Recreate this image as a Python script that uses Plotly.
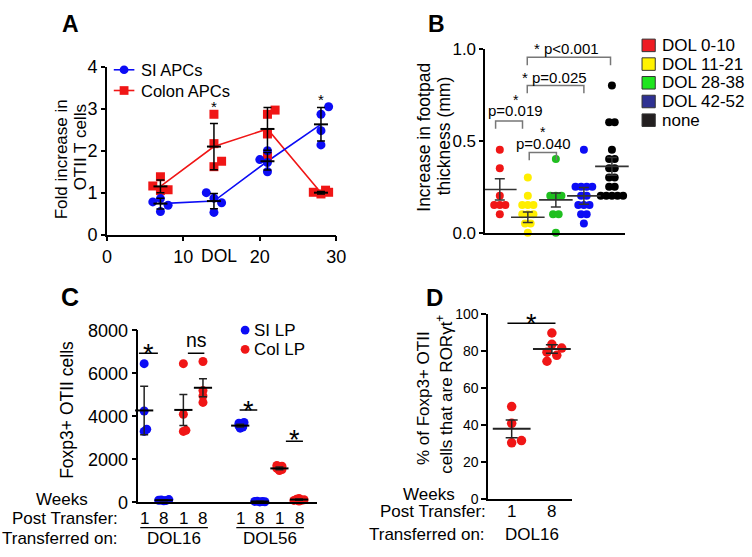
import plotly.graph_objects as go

W, H = 752, 557
FONT = "Liberation Sans, Arial, sans-serif"
BLUE = "#0c0cf5"
RED = "#f01616"

# ===================== DATA =====================
# Panel A
A_SERIES = ["SI APCs", "Colon APCs"]
A_MEAN_DOL = [7, 14, 21, 28]
A_SI_DOL = [6, 7, 7, 8, 13, 14, 14, 15, 20, 21, 21, 21, 28, 28, 28, 29]
A_SI_FOLD = [0.78, 0.86, 0.55, 0.70, 1.00, 0.87, 0.53, 0.76, 1.79, 2.00, 1.72, 1.50, 2.87, 2.48, 2.14, 3.05]
A_SI_MEAN = [0.74, 0.80, 1.75, 2.63]
A_SI_ERR = [0.13, 0.18, 0.21, 0.40]
A_COL_DOL = [6, 7, 7, 8, 14, 14, 14, 15, 21, 21, 21, 22, 27, 28, 28.6, 29]
A_COL_FOLD = [1.16, 1.38, 1.05, 1.07, 2.87, 2.17, 1.62, 1.75, 2.87, 2.40, 1.87, 2.97, 1.01, 0.97, 1.06, 1.01]
A_COL_MEAN = [1.15, 2.10, 2.52, 1.00]
A_COL_ERR = [0.15, 0.55, 0.51, 0.03]
A_STAR_DOL = [14, 28]
A_STAR_LEVEL = [3.05, 3.22]
A_XTICKS = [0, 10, 20, 30]
A_YTICKS = [0, 1, 2, 3, 4]

# Panel B
B_GROUPS = ["DOL 0-10", "DOL 11-21", "DOL 28-38", "DOL 42-52", "none"]
B_VALUES = [
    [0.45, 0.35, 0.20, 0.15, 0.15, 0.15, 0.10],
    [0.30, 0.20, 0.15, 0.15, 0.15, 0.10, 0.10, 0.10, 0.05, 0.05, 0.00],
    [0.40, 0.20, 0.20, 0.20, 0.10, 0.10, 0.00],
    [0.45, 0.25, 0.25, 0.25, 0.25, 0.20, 0.20, 0.15, 0.15, 0.15, 0.10, 0.10, 0.05],
    [0.80, 0.60, 0.60, 0.45, 0.40, 0.40, 0.35, 0.35, 0.30, 0.30, 0.25, 0.25,
     0.20, 0.20, 0.20, 0.20, 0.20],
]
B_MEAN = [0.235, 0.084, 0.178, 0.200, 0.360]
B_SEM = [0.058, 0.028, 0.038, 0.045, 0.048]
B_DOT_COLORS = ["#f01616", "#ffee00", "#1fbf1f", "#0c0cf5", "#000000"]
B_KEY_COLORS = ["#ee1c24", "#fff200", "#1ee61e", "#2e3192", "#231f20"]
B_YTICKS = [0.0, 0.5, 1.0]
B_SIG_TEXT = ["p=0.019", "p=0.040", "* p=0.025", "* p<0.001"]
B_SIG_FROM = [-0.15, 1.05, 0.98, 0.98]
B_SIG_TO = [0.81, 2.02, 3.0, 3.95]
B_SIG_LEVEL = [0.607, 0.436, 0.80, 0.953]

# Panel C
C_TRANSFER = ["DOL16", "DOL56"]
C_TISSUE = ["SI LP", "Col LP"]
C_SLOT_TRANSFER = [0, 0, 0, 0, 1, 1, 1, 1]
C_SLOT_TISSUE = [0, 0, 1, 1, 0, 0, 1, 1]
C_SLOT_WEEK = ["1", "8", "1", "8", "1", "8", "1", "8"]
C_VALUES = [
    [6450, 4250, 3300, 3400],
    [70, 90, 110, 130, 100],
    [6450, 4100, 3300, 3350],
    [6550, 5200, 4950, 4650],
    [3450, 3500, 3560, 3620, 3680, 3720],
    [20, 40, 55, 30, 45],
    [1480, 1530, 1580, 1620, 1680, 1720],
    [60, 100, 140, 180, 120, 90],
]
C_MEAN = [4275, 100, 4300, 5330, 3570, 40, 1580, 130]
C_ERR = [1125, 20, 720, 420, 60, 10, 60, 30]
C_YTICKS = [0, 2000, 4000, 6000, 8000]
C_SIG_TEXT = ["*", "ns", "*", "*"]
C_SIG_FROM = [-0.27, 2.23, 4.87, 7.23]
C_SIG_TO = [0.70, 3.07, 5.77, 8.10]
C_SIG_LEVEL = [6937, 6937, 4291, 2843]

# Panel D
D_WEEKS = ["1", "8"]
D_TRANSFER = "DOL16"
D_VALUES = [[50, 41, 30.5, 31.7], [89.6, 83.5, 81.5, 79.3, 77.6, 74.4]]
D_MEAN = [38, 81]
D_ERR = [4.8, 2.3]
D_YTICKS = [0, 20, 40, 60, 80, 100]
D_SIG_LEVEL = 94.8

# ===================== LAYOUT GEOMETRY (pixels) =====================
BOX_A = (104, 338, 233, 59)
BOX_B = (490, 633, 231, 40)
BOX_C = (136, 318, 510.7, 332.3)
BOX_D = (493, 579, 507.7, 315)
XR_A, YR_A = [0, 30], [0, 4]
XR_B, YR_B = [-0.52, 4.48], [0, 1.0]
XR_C, YR_C = [-0.3, 8.8], [0, 8000]
XR_D, YR_D = [-0.585, 1.512], [0, 100]
C_BLOCK_GAP = 4.9


def dom_x(b):
    return [b[0] / W, b[1] / W]


def dom_y(b):
    return [1 - b[2] / H, 1 - b[3] / H]


def px_scale(b, xr, yr):
    return (b[1] - b[0]) / (xr[1] - xr[0]), (b[2] - b[3]) / (yr[1] - yr[0])


def row_offsets(values, step):
    counts, seen, out = {}, {}, []
    for v in values:
        counts[v] = counts.get(v, 0) + 1
    for v in values:
        i = seen.get(v, 0)
        seen[v] = i + 1
        out.append((i - (counts[v] - 1) / 2) * step)
    return out


def beeswarm(values, py_per_unit, diam, step):
    order = [0]
    for i in range(1, 40):
        order += [i, -i]
    placed, out = [], []
    for v in values:
        yp = v * py_per_unit
        for k in order:
            xp = k * step
            if all((xp - a) ** 2 + (yp - b) ** 2 >= diam ** 2 - 1e-6 for a, b in placed):
                break
        placed.append((xp, yp))
        out.append(xp)
    return out


fig = go.Figure()

# ---------------- Panel A ----------------
for mean, col in [(A_COL_MEAN, RED), (A_SI_MEAN, BLUE)]:
    fig.add_trace(go.Scatter(x=A_MEAN_DOL, y=mean, mode="lines",
                             line=dict(color=col, width=1.6), xaxis="x", yaxis="y",
                             showlegend=False, hoverinfo="skip", cliponaxis=False))
fig.add_trace(go.Scatter(x=A_COL_DOL, y=A_COL_FOLD, mode="markers",
                         marker=dict(symbol="square", size=9, color=RED),
                         xaxis="x", yaxis="y", showlegend=False, cliponaxis=False))
fig.add_trace(go.Scatter(x=A_SI_DOL, y=A_SI_FOLD, mode="markers",
                         marker=dict(symbol="circle", size=9, color=BLUE),
                         xaxis="x", yaxis="y", showlegend=False, cliponaxis=False))
for mean, err in [(A_COL_MEAN, A_COL_ERR), (A_SI_MEAN, A_SI_ERR)]:
    fig.add_trace(go.Scatter(x=A_MEAN_DOL, y=mean, mode="markers",
                             marker=dict(symbol="line-ew", size=10, line=dict(color="black", width=2)),
                             error_y=dict(type="data", array=err, color="black", thickness=1.5, width=4),
                             xaxis="x", yaxis="y", showlegend=False, cliponaxis=False))

# ---------------- Panel B ----------------
bpx, bpy = px_scale(BOX_B, XR_B, YR_B)
for i, vals in enumerate(B_VALUES):
    offs = row_offsets(vals, 5.7)
    fig.add_trace(go.Scatter(x=[i + o / bpx for o in offs], y=vals, mode="markers",
                             marker=dict(size=8, color=B_DOT_COLORS[i]),
                             xaxis="x2", yaxis="y2", showlegend=False, cliponaxis=False))
fig.add_trace(go.Scatter(x=list(range(len(B_GROUPS))), y=B_MEAN, mode="markers",
                         marker=dict(symbol="line-ew", size=24, line=dict(color="#333333", width=1.6)),
                         error_y=dict(type="data", array=B_SEM, color="#333333", thickness=1.5, width=5),
                         xaxis="x2", yaxis="y2", showlegend=False, cliponaxis=False))

# ---------------- Panel C ----------------
cpx, cpy = px_scale(BOX_C, XR_C, YR_C)
c_pos = [s % 4 + C_BLOCK_GAP * C_SLOT_TRANSFER[s] for s in range(len(C_VALUES))]
for s, vals in enumerate(C_VALUES):
    offs = beeswarm(vals, cpy, 2.6, 1.3)
    col = BLUE if C_SLOT_TISSUE[s] == 0 else RED
    fig.add_trace(go.Scatter(x=[c_pos[s] + o / cpx for o in offs], y=vals, mode="markers",
                             marker=dict(size=9, color=col),
                             xaxis="x3", yaxis="y3", showlegend=False, cliponaxis=False))
fig.add_trace(go.Scatter(x=c_pos, y=C_MEAN, mode="markers",
                         marker=dict(symbol="line-ew", size=13, line=dict(color="black", width=2)),
                         error_y=dict(type="data", array=C_ERR, color="#222222", thickness=1.5, width=4),
                         xaxis="x3", yaxis="y3", showlegend=False, cliponaxis=False))

# ---------------- Panel D ----------------
dpx, dpy = px_scale(BOX_D, XR_D, YR_D)
for w, vals in enumerate(D_VALUES):
    offs = beeswarm(vals, dpy, 9, 5)
    fig.add_trace(go.Scatter(x=[w + o / dpx for o in offs], y=vals, mode="markers",
                             marker=dict(size=9.5, color=RED),
                             xaxis="x4", yaxis="y4", showlegend=False, cliponaxis=False))
fig.add_trace(go.Scatter(x=list(range(len(D_WEEKS))), y=D_MEAN, mode="markers",
                         marker=dict(symbol="line-ew", size=27, line=dict(color="#222222", width=2)),
                         error_y=dict(type="data", array=D_ERR, color="#222222", thickness=1.5, width=6),
                         xaxis="x4", yaxis="y4", showlegend=False, cliponaxis=False))

# ---------------- axes ----------------
base = dict(showline=True, linecolor="black", linewidth=1.5, showgrid=False, zeroline=False,
            ticks="outside", ticklen=5, tickwidth=1.5, tickcolor="black", fixedrange=True)
noticks = dict(base, ticks="", showticklabels=False)
layout_axes = dict(
    xaxis=dict(base, domain=dom_x(BOX_A), range=XR_A, tickvals=A_XTICKS, anchor="y",
               tickfont=dict(size=18)),
    yaxis=dict(base, domain=dom_y(BOX_A), range=YR_A, tickvals=A_YTICKS, anchor="x",
               tickfont=dict(size=18), ticklen=4),
    xaxis2=dict(noticks, domain=dom_x(BOX_B), range=XR_B, anchor="y2"),
    yaxis2=dict(base, domain=dom_y(BOX_B), range=YR_B, tickvals=B_YTICKS,
                ticktext=["%.1f" % v for v in B_YTICKS], anchor="x2", tickfont=dict(size=17), ticklen=4),
    xaxis3=dict(noticks, domain=dom_x(BOX_C), range=XR_C, anchor="y3"),
    yaxis3=dict(base, domain=dom_y(BOX_C), range=YR_C, tickvals=C_YTICKS, anchor="x3",
                tickfont=dict(size=18)),
    xaxis4=dict(noticks, domain=dom_x(BOX_D), range=XR_D, anchor="y4"),
    yaxis4=dict(base, domain=dom_y(BOX_D), range=YR_D, tickvals=D_YTICKS, anchor="x4",
                tickfont=dict(size=14)),
)

# ---------------- annotations & shapes ----------------
ann, shp = [], []


def txt(x, y, s, size=17, xa="center", ya="middle", angle=0, bold=False, xref="paper", yref="paper"):
    """x, y in pixels when the reference is 'paper'; otherwise data units"""
    if xref == "paper":
        x = x / W
    if yref == "paper":
        y = 1 - y / H
    if bold:
        s = "<b>" + s + "</b>"
    ann.append(dict(x=x, y=y, xref=xref, yref=yref, text=s, showarrow=False, xanchor=xa, yanchor=ya,
                    textangle=angle, font=dict(size=size, family=FONT, color="black")))


def pline(x0, y0, x1, y1, color="black", width=1.5):
    shp.append(dict(type="line", xref="paper", yref="paper", x0=x0 / W, x1=x1 / W,
                    y0=1 - y0 / H, y1=1 - y1 / H, line=dict(color=color, width=width)))


# panel letters
txt(67, 15, "A", 23, bold=True)
txt(440, 15, "B", 23, bold=True)
txt(66, 298, "C", 25, bold=True)
txt(438, 298, "D", 24, bold=True)

# A titles / legend / stars
txt(58, 155, "Fold increase in", 17, angle=-90)
txt(77, 142, "OTII T cells", 17, angle=-90)
txt(218, 255, "DOL", 17.5)
A_COLORS = [BLUE, RED]
for i, name in enumerate(A_SERIES):
    yk = 62 + i * 21.5
    pline(111, yk, 132, yk, A_COLORS[i], 1.6)
    shp.append(dict(type="circle" if i == 0 else "rect", xref="paper", yref="paper",
                    x0=117 / W, x1=126 / W, y0=1 - (yk + 4.5) / H, y1=1 - (yk - 4.5) / H,
                    fillcolor=A_COLORS[i], line=dict(width=0)))
    txt(137, yk, name, 16.5, xa="left")
for d, lv in zip(A_STAR_DOL, A_STAR_LEVEL):
    txt(d, lv, "*", 15, xref="x", yref="y")

# B titles / legend / significance
txt(428, 132, "Increase in footpad", 17.5, angle=-90)
txt(448, 131, "thickness (mm)", 17.5, angle=-90)
for i, g in enumerate(B_GROUPS):
    yk = 36.7 + i * 19.4
    shp.append(dict(type="rect", xref="paper", yref="paper", x0=650 / W, x1=663.5 / W,
                    y0=1 - (yk + 6.5) / H, y1=1 - (yk - 6.5) / H,
                    fillcolor=B_KEY_COLORS[i], line=dict(color="#333333", width=1)))
    txt(668, yk, g, 17, xa="left")
for k in range(len(B_SIG_TEXT)):
    x0, x1, lv = B_SIG_FROM[k], B_SIG_TO[k], B_SIG_LEVEL[k]
    drop = 0.043
    shp.append(dict(type="path", xref="x2", yref="y2",
                    path="M %f,%f L %f,%f L %f,%f L %f,%f" % (x0, lv - drop, x0, lv, x1, lv, x1, lv - drop),
                    line=dict(color="#777777", width=1.5)))
txt(520.5, 104, B_SIG_TEXT[0], 15)
txt(521.7, 93, "*", 14)
txt(549, 138.3, B_SIG_TEXT[1], 15)
txt(549.3, 127, "*", 14)
txt(561, 70, B_SIG_TEXT[2], 15)
txt(572.5, 40, B_SIG_TEXT[3], 15)

# C titles / legend / significance / bottom labels
txt(63, 415, "Foxp3+ OTII cells", 17.5, angle=-90)
for i, t in enumerate(C_TISSUE):
    yk = 332 + i * 20
    col = BLUE if i == 0 else RED
    shp.append(dict(type="circle", xref="paper", yref="paper", x0=240.5 / W, x1=249.5 / W,
                    y0=1 - (yk + 4.5) / H, y1=1 - (yk - 4.5) / H, fillcolor=col, line=dict(width=0)))
    txt(252, yk, t, 17, xa="left")
C_SIG_GLYPH_Y = [356.5, 356.5, 415.5, 446.5]
for k in range(len(C_SIG_TEXT)):
    shp.append(dict(type="line", xref="x3", yref="y3", x0=C_SIG_FROM[k], x1=C_SIG_TO[k],
                    y0=C_SIG_LEVEL[k], y1=C_SIG_LEVEL[k], line=dict(color="black", width=1.5)))
    xm = (C_SIG_FROM[k] + C_SIG_TO[k]) / 2
    if C_SIG_TEXT[k] == "ns":
        txt(xm, 342.5, "ns", 19.5, xref="x3")
    else:
        txt(xm, C_SIG_GLYPH_Y[k], "*", 27, xref="x3")
txt(87, 508, "Weeks", 17, xa="right")
txt(117, 527, "Post Transfer:", 17, xa="right")
txt(117, 548, "Transferred on:", 17, xa="right")
for s in range(len(C_VALUES)):
    txt(c_pos[s], 527, C_SLOT_WEEK[s], 17, xref="x3")
for b, name in enumerate(C_TRANSFER):
    x0 = -0.2 + b * C_BLOCK_GAP
    x1 = 3.25 + b * C_BLOCK_GAP
    shp.append(dict(type="line", xref="x3", yref="paper", x0=x0, x1=x1,
                    y0=1 - 537 / H, y1=1 - 537 / H, line=dict(color="black", width=1.3)))
    txt(1.5 + b * C_BLOCK_GAP, 548, name, 17, xref="x3")

# D titles / significance / bottom labels
txt(427, 402, "% of Foxp3+ OTII", 17, angle=-90)
txt(448, 399, "cells that are RORγt<sup>+</sup>", 17, angle=-90)
shp.append(dict(type="line", xref="x4", yref="y4", x0=-0.105, x1=1.09, y0=D_SIG_LEVEL, y1=D_SIG_LEVEL,
                line=dict(color="black", width=1.5)))
txt(0.5, 326, "*", 27, xref="x4")
txt(461, 503, "Weeks", 17, xa="right")
txt(493, 520, "Post Transfer:", 17, xa="right")
txt(492, 544, "Transferred on:", 17, xa="right")
for w, lab in enumerate(D_WEEKS):
    txt(w, 520, lab, 17, xref="x4")
txt(0.5, 544, D_TRANSFER, 17, xref="x4")

fig.update_layout(
    width=W, height=H, margin=dict(l=0, r=0, t=0, b=0),
    paper_bgcolor="white", plot_bgcolor="white",
    font=dict(family=FONT, color="black", size=17),
    showlegend=False, annotations=ann, shapes=shp, **layout_axes,
)
fig.write_html("out.html", config={"displayModeBar": False},
               post_script="document.body.style.margin='0px';")
